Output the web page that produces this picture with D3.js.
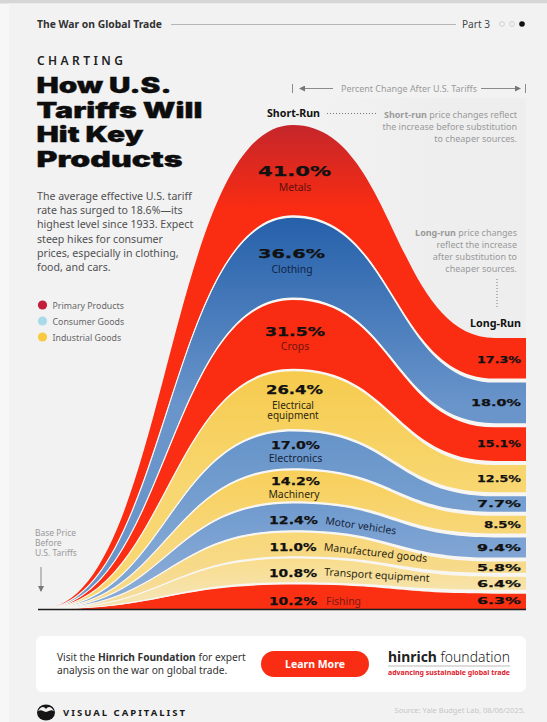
<!DOCTYPE html>
<html>
<head>
<meta charset="utf-8">
<style>
html,body{margin:0;padding:0;background:#f7f7f7;}
svg{display:block;}
text{font-family:"Noto Sans",sans-serif;}
.heavy{font-family:Inter,"DejaVu Sans",sans-serif;font-weight:900;stroke:#0d0d0d;stroke-width:.35;}
.num{font-family:"DejaVu Sans",sans-serif;font-weight:700;fill:#111;stroke:#111;stroke-width:.25;}
</style>
<script src="https://cdn.jsdelivr.net/npm/d3@7/dist/d3.min.js"></script>
</head>
<body>
<svg id="chart" width="547" height="722"></svg>
<script>
// Tariff price effects, ordered from the bottom band of the stack to the top
const products = ["Fishing","Transport equipment","Manufactured goods","Motor vehicles","Machinery","Electronics","Electrical equipment","Crops","Clothing","Metals"];
const shortRun = [10.2,10.8,11.0,12.4,14.2,17.0,26.4,31.5,36.6,41.0];
const longRun  = [6.3,6.4,5.8,9.4,8.5,7.7,12.5,15.1,18.0,17.3];
const stages = ["base","short","long","longEdge"];
const bodyLines = ["The average effective U.S. tariff","rate has surged to 18.6%—its","highest level since 1933. Expect","steep hikes for consumer","prices, especially in clothing,","food, and cars."];
const titleLines = ["How U.S.","Tariffs Will","Hit Key","Products"];
const legendNames = ["Primary Products","Consumer Goods","Industrial Goods"];

const svg = d3.select("#chart");
const defs = svg.append("defs");
const baseY = 609;

// Page panels
svg.append("rect").attr("width",547).attr("height",3.5).attr("fill","#d6d6d6");
svg.append("rect").attr("x",9).attr("y",3.5).attr("width",538).attr("height",719).attr("fill","#f2f2f3");
const wash = defs.append("linearGradient").attr("id","wash");
wash.append("stop").attr("offset",0).attr("stop-color","#eeeeef").attr("stop-opacity",0);
wash.append("stop").attr("offset",.6).attr("stop-color","#eeeeef");
svg.append("rect").attr("x",316).attr("y",98).attr("width",210).attr("height",240).attr("fill","url(#wash)");

// Stage positions along the run, and one height scale for each side of the peak
const x = d3.scaleOrdinal().domain(stages).range([40,293,495,526]);
const sumShort = d3.sum(shortRun), sumLong = d3.sum(longRun);
const yShort = d3.scalePow().exponent(0.97).domain([0,sumShort]).range([baseY,125]);
const yLong  = d3.scalePow().exponent(0.97).domain([0,sumLong]).range([baseY,338]);
const yAt = (stage,v) => stage==="short" ? yShort(v) : stage==="base" ? baseY : yLong(v);

const stageValue = (stage,i,arrS,arrL) => stage==="base" ? 0 : stage==="short" ? arrS[i] : arrL[i];
const cumShort = d3.cumsum(shortRun), cumLong = d3.cumsum(longRun);

const rows = products.map((name,i)=>({
  name,
  pts: stages.map(s=>({
    stage:s,
    lo: i===0 ? 0 : stageValue(s,i-1,cumShort,cumLong),
    hi: stageValue(s,i,cumShort,cumLong)
  }))
}));

const area = d3.area().curve(d3.curveBumpX)
  .x(d=>x(d.stage)).y0(d=>yAt(d.stage,d.lo)).y1(d=>yAt(d.stage,d.hi));
const topLine = d3.line().curve(d3.curveBumpX)
  .x(d=>x(d.stage)).y(d=>yAt(d.stage,d.hi));

// The separators between bands widen from the base price toward the long run
const seamWidth = d3.scaleOrdinal().domain(stages).range([0,2.4,4,4]);
const seam = d3.area().curve(d3.curveBumpX)
  .x(d=>x(d.stage))
  .y0(d=>yAt(d.stage,d.hi)+seamWidth(d.stage)/2)
  .y1(d=>yAt(d.stage,d.hi)-seamWidth(d.stage)/2);

// Vertical colour ramps, listed in band order
const rampTop = ["#fb2f12","#f9dd8c","#f8d777","#6f9ace","#f7cf5a","#6593c9","#f6cb4d","#f82c12","#2560aa","#c5262b"];
const rampEnd = ["#fb2f12","#f6e4b0","#f6dc97","#86a9d6","#f8da85","#7ea5d3","#f8d772","#fb2d12","#6a95cb","#fa2c12"];
const rampSpan = [0,40,60,70,90,110,120,120,190,85];

rows.forEach((r,i)=>{
  const top = yShort(cumShort[i]);
  const g = defs.append("linearGradient").attr("id","band"+i)
    .attr("gradientUnits","userSpaceOnUse").attr("x1",0).attr("x2",0)
    .attr("y1",top).attr("y2",top+Math.max(rampSpan[i],1));
  g.append("stop").attr("offset",0).attr("stop-color",rampTop[i]);
  g.append("stop").attr("offset",1).attr("stop-color",rampEnd[i]);
});

const bands = svg.append("g");
bands.selectAll("path.band").data(rows).join("path").attr("class","band")
  .attr("d",d=>area(d.pts)).attr("fill",(d,i)=>`url(#band${i})`);
bands.selectAll("path.edge").data(rows.slice(0,-1)).join("path").attr("class","edge")
  .attr("d",d=>topLine(d.pts)).attr("fill","none").attr("stroke","#f8f6f2").attr("stroke-width",1.2);
bands.selectAll("path.seam").data(rows.slice(0,-1)).join("path").attr("class","seam")
  .attr("d",d=>seam(d.pts)).attr("fill","#f8f6f2");

// Bands dissolve into the page where they leave the base price
const fade = defs.append("linearGradient").attr("id","fade");
fade.append("stop").attr("offset",0).attr("stop-color","#f2f2f3");
fade.append("stop").attr("offset",1).attr("stop-color","#f2f2f3").attr("stop-opacity",0);
svg.append("rect").attr("x",38).attr("y",590).attr("width",34).attr("height",19).attr("fill","url(#fade)");
svg.append("line").attr("x1",38).attr("x2",526).attr("y1",baseY+.5).attr("y2",baseY+.5).attr("stroke","#1d1d1d").attr("stroke-width",1.5);

// Header strip
const label = (t,px,py,size,fill,opts={})=>{
  const n = svg.append("text").attr("x",px).attr("y",py).attr("font-size",size).attr("fill",fill).text(t);
  if(opts.weight) n.attr("font-weight",opts.weight);
  if(opts.anchor) n.attr("text-anchor",opts.anchor);
  if(opts.spacing) n.attr("letter-spacing",opts.spacing);
  if(opts.len) n.attr("textLength",opts.len).attr("lengthAdjust",opts.adjust||"spacingAndGlyphs");
  if(opts.cls) n.attr("class",opts.cls);
  if(opts.rot) n.attr("transform",`rotate(${opts.rot} ${px} ${py})`);
  return n;
};
label("The War on Global Trade",37,28,10.5,"#333",{weight:700,len:125});
svg.append("line").attr("x1",171).attr("x2",456).attr("y1",24.5).attr("y2",24.5).attr("stroke","#b5b5b5");
label("Part 3",462,28,10.5,"#444",{len:28});
[502,512].forEach(c=>svg.append("circle").attr("cx",c).attr("cy",24).attr("r",2.4).attr("fill","none").attr("stroke","#c8c8c8").attr("stroke-width",.8));
svg.append("circle").attr("cx",522).attr("cy",24).attr("r",2.8).attr("fill","#111");

// Title block
label("CHARTING",37,64.5,12,"#222",{weight:600,len:86,adjust:"spacing"});
const titleWidths = [135,166,107,146];
titleLines.forEach((t,i)=>label(t,36.5,93+i*24.5,21,"#0d0d0d",{cls:"heavy",len:titleWidths[i]}));
bodyLines.forEach((t,i)=>label(t,37,200+i*14.2,10.6,"#505050",{}));

// Legend
["#c41f3a","#a9d9ea","#f9c940"].forEach((c,i)=>{
  svg.append("circle").attr("cx",42.5).attr("cy",305+i*16).attr("r",4.6).attr("fill",c);
  label(legendNames[i],52.5,308.5+i*16,8.8,"#666");
});

// Span annotation above the stack
const gray="#9a9a9a";
const marker = id => { const m = defs.append("marker").attr("id",id).attr("markerWidth",6).attr("markerHeight",6).attr("refX",5).attr("refY",3).attr("orient","auto");
  m.append("path").attr("d","M0,0L6,3L0,6Z").attr("fill","#777"); };
marker("tip");
const rule = (x1,y1,x2,y2,o={})=>svg.append("line").attr("x1",x1).attr("y1",y1).attr("x2",x2).attr("y2",y2)
  .attr("stroke",o.c||"#8a8a8a").attr("stroke-width",o.w||1).attr("stroke-dasharray",o.d||null).attr("marker-end",o.m?"url(#tip)":null);
rule(292.5,84,292.5,93);
rule(333,88.5,300,88.5,{m:1});
rule(481,88.5,520,88.5,{m:1});
rule(525.5,84,525.5,93);
label("Percent Change After U.S. Tariffs",341,92,9.5,gray,{len:136});

// Run notes
label("Short-Run",267,117,10.5,"#111",{weight:700,len:53});
rule(327,113.5,376,113.5,{d:"1 2",c:"#777"});
const note = (parts,py)=>{
  const t = svg.append("text").attr("x",517).attr("y",py).attr("text-anchor","end").attr("font-size",9).attr("fill",gray);
  parts.forEach(p=>t.append("tspan").attr("font-weight",p[1]?700:400).text(p[0]));
};
note([["Short-run",1],[" price changes reflect"]],117.5);
note([["the increase before substitution"]],129.5);
note([["to cheaper sources."]],141.5);
note([["Long-run",1],[" price changes"]],235.5);
note([["reflect the increase"]],247.5);
note([["after substitution to"]],259.5);
note([["cheaper sources."]],271.5);
rule(497,279,497,307,{d:"1 2",c:"#777"});
label("Long-Run",470,326.5,10.5,"#111",{weight:700,len:51});

// Base-price note
["Base Price","Before","U.S. Tariffs"].forEach((t,i)=>label(t,35,536+i*10,8.5,"#999"));
rule(41,567,41,591,{m:1,c:"#888"});

// Value labels, placed over each band at the short-run and long-run stages
const fmt = d3.format(".1f");
const peakPct = [[293,604.5,48],[293,577,48],[293,551,47],[293.5,524,49],[295.5,484.5,49],[295.5,449,49],[294.5,394,57],[295,336,60],[291.5,258,67],[294.5,175.5,73]];
const peakName = [[343.5,604.5,10.4,"#7a1a14",0],null,null,null,[294,497.5,10.4,"#2e2810",0],[295.5,462,10.6,"#16233c",0],null,[295,350,10.4,"#6e140c",0],[292,272.5,10.4,"#0f2344",0],[295,191,10.4,"#5e100c",0]];
products.forEach((p,i)=>{
  const [cx,cy,w] = peakPct[i];
  const fs = Math.min(13.5, 6.2+w*0.10);
  label(fmt(shortRun[i])+"%",cx,cy,fs,"#111",{cls:"num",anchor:"middle",len:w});
  const n = peakName[i];
  if(n) label(p,n[0],n[1],n[2],n[3],{anchor:"middle"});
  const mid = (yLong(i?cumLong[i-1]:0)+yLong(cumLong[i]))/2;
  label(fmt(longRun[i])+"%",521,mid+3.4,9.5,"#111",{cls:"num",anchor:"end",len:i===8?50:(i===4?37:44)});
});
// The two-line product name stays one text element
const elec = svg.append("text").attr("text-anchor","middle").attr("font-size",10).attr("fill","#2e2810");
elec.append("tspan").attr("x",293).attr("y",408.5).text("Electrical");
elec.append("tspan").attr("x",293).attr("y",418.5).text("equipment");
label("Motor vehicles",325,524,10.4,"#16233c",{rot:8.5});
label("Manufactured goods",323.5,550.5,10.6,"#2e2810",{rot:6.5});
label("Transport equipment",324,575.5,10.6,"#2e2810",{rot:3.5});

// Call-to-action card
svg.append("rect").attr("x",36).attr("y",636).attr("width",490).attr("height",56).attr("rx",6).attr("fill","#fff");
const cta = svg.append("text").attr("x",57).attr("y",660.5).attr("font-size",10.2).attr("fill","#333");
cta.append("tspan").text("Visit the ");
cta.append("tspan").attr("font-weight",700).text("Hinrich Foundation");
cta.append("tspan").text(" for expert");
label("analysis on the war on global trade.",57,674,10.2,"#333");
svg.append("rect").attr("x",261).attr("y",651).attr("width",108).attr("height",26).attr("rx",13).attr("fill","#f92d14");
label("Learn More",315,668,10.5,"#fff",{weight:700,anchor:"middle"});
const logo = svg.append("text").attr("x",388).attr("y",662).attr("font-size",15).attr("fill","#222").attr("textLength",122).attr("lengthAdjust","spacingAndGlyphs");
logo.append("tspan").attr("font-weight",700).text("hinrich");
logo.append("tspan").attr("font-weight",300).text(" foundation");
svg.append("line").attr("x1",388).attr("x2",510).attr("y1",666).attr("y2",666).attr("stroke","#bbb");
label("advancing sustainable global trade",388,675,7.2,"#e0202c",{weight:700,len:122});

// Footer
svg.append("ellipse").attr("cx",46).attr("cy",712.5).attr("rx",9).attr("ry",8).attr("fill","#151515");
svg.append("path").attr("d","M38,711 C41,706 44,706 46,709 C48,706 51,706 54,711 C51,709 49,711 46,712 C43,711 41,709 38,711Z").attr("fill","#f2f2f3");
label("VISUAL CAPITALIST",63,716,9.5,"#1a1a1a",{weight:700,len:122,adjust:"spacing"});
label("Source: Yale Budget Lab, 08/06/2025.",525,713,7.5,"#c6c6c6",{anchor:"end"});
</script>
</body>
</html>
